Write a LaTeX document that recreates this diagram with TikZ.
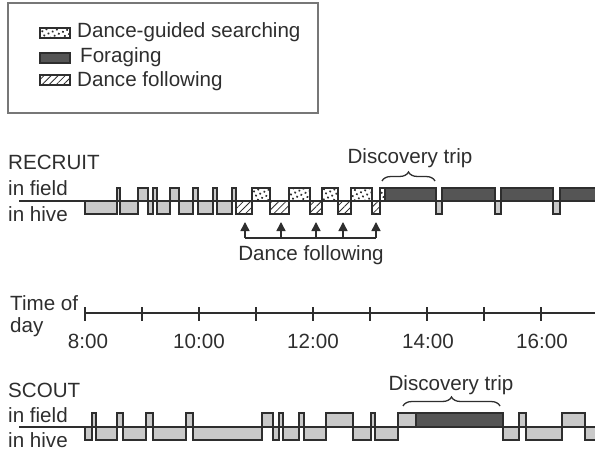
\documentclass[tikz,border=0pt]{standalone}
\usepackage{fontspec}
\setmainfont{Liberation Sans}
\usetikzlibrary{arrows.meta,patterns.meta,decorations.pathreplacing}
\definecolor{ink}{HTML}{2E2E2E}
\definecolor{lightg}{HTML}{C9C9C9}
\definecolor{darkg}{HTML}{555555}
\definecolor{boxg}{HTML}{777777}
\begin{document}
\begin{tikzpicture}[x=1pt,y=-1pt,
  lbl/.style={inner sep=0pt,anchor=base west,text=ink,font=\fontsize{20.6}{24}\selectfont},
  ctr/.style={inner sep=0pt,anchor=base,text=ink,font=\fontsize{20.6}{24}\selectfont},
  trace/.style={draw=ink,line width=1.3pt},
  grayseg/.style={trace,fill=lightg},
  forage/.style={trace,fill=darkg},
  hatch/.style={trace,pattern={Lines[angle=45,distance=5pt,line width=0.8pt]},pattern color=ink},
  dots/.style={trace,pattern={Dots[radius=1.2pt,distance=4.6pt,angle=25]},pattern color=ink},
  axis/.style={draw=ink,line width=1.3pt},
  conn/.style={draw=ink,line width=1.5pt},
  tip/.style={-{Triangle[length=9pt,width=9pt]}},
  brc/.style={draw=ink,line width=1.3pt,decorate,decoration={brace,amplitude=9pt}}
]
\useasboundingbox (0,0) rectangle (595,452);
% legend
\draw[boxg,line width=1.2pt] (8,3) rectangle (318,113);
\path[dots] (40,28) rectangle (70,38);
\path[forage] (40,53) rectangle (70,63);
\path[hatch] (40,75) rectangle (70,85);
\node[lbl] (l1) at (77,38) {Dance-guided searching};
\node[lbl] (l2) at (80,63) {Foraging};
\node[lbl] (l3) at (77,87) {Dance following};
% recruit
\node[lbl] (rec) at (8,169) {RECRUIT};
\node[lbl] (rf) at (8,195) {in field};
\node[lbl] (rh) at (8,221) {in hive};
\draw[axis] (19,201) -- (597,201);
\foreach \a/\b in {85/117,120/138,148/153,157/170,179/193,198/213,217/232,436/442,495/501,553/560}
  \path[grayseg] (\a,201) rectangle (\b,214);
\foreach \a/\b in {117/120,138/148,153/157,170/179,193/198,213/217,232/236}
  \path[grayseg] (\a,188) rectangle (\b,201);
\foreach \a/\b in {236/252,270/289,310/322,338/351,372/380}
  \path[hatch] (\a,201) rectangle (\b,214);
\foreach \a/\b in {252/270,289/310,322/338,351/372,380/385}
  \path[dots] (\a,188) rectangle (\b,201);
\foreach \a/\b in {385/436,442/495,501/553,560/600}
  \path[forage] (\a,188) rectangle (\b,201);
\node[ctr] (rdt) at (410,163) {Discovery trip};
\coordinate (rb1) at (382,181);
\coordinate (rb2) at (435,181);
\path[brc] (rb1) -- (rb2);
% dance following arrows
\coordinate (j1) at (245,238);
\coordinate (j2) at (281,238);
\coordinate (j3) at (316,238);
\coordinate (j4) at (343,238);
\coordinate (j5) at (376,238);
\coordinate (t1) at (245,222);
\coordinate (t2) at (281,222);
\coordinate (t3) at (316,222);
\coordinate (t4) at (343,222);
\coordinate (t5) at (376,222);
\draw[conn] (j1) -- (j5);
\foreach \i in {1,...,5} \draw[conn,tip] (j\i) -- (t\i);
\node[ctr] (df) at (311,260) {Dance following};
% time axis
\node[lbl] (tod1) at (10,310) {Time of};
\node[lbl] (tod2) at (10,332) {day};
\draw[axis] (85,313) -- (597,313);
\foreach \x in {85,142,199,256,313,370,427,484,541}
  \draw[axis] (\x,307) -- (\x,321);
\node[ctr] (h8) at (88,348) {8:00};
\node[ctr] (h10) at (199,348) {10:00};
\node[ctr] (h12) at (313,348) {12:00};
\node[ctr] (h14) at (428,348) {14:00};
\node[ctr] (h16) at (542,348) {16:00};
% scout
\node[lbl] (sc) at (8,397) {SCOUT};
\node[lbl] (sf) at (8,422) {in field};
\node[lbl] (sh) at (8,447) {in hive};
\draw[axis] (19,427) -- (597,427);
\foreach \a/\b in {85/92,96/117,123/146,153/186,193/262,273/279,283/299,304/326,353/371,375/398,503/519,526/562,585/600}
  \path[grayseg] (\a,427) rectangle (\b,440);
\foreach \a/\b in {92/96,117/123,146/153,186/193,262/273,279/283,299/304,326/353,371/375,398/416,519/526,562/585}
  \path[grayseg] (\a,413) rectangle (\b,427);
\path[forage] (416,413) rectangle (503,427);
\draw[ink,line width=2pt] (416,413) -- (416,427);
\node[ctr] (sdt) at (451,390) {Discovery trip};
\coordinate (sb1) at (403,406);
\coordinate (sb2) at (500,406);
\path[brc] (sb1) -- (sb2);
\end{tikzpicture}
\end{document}
